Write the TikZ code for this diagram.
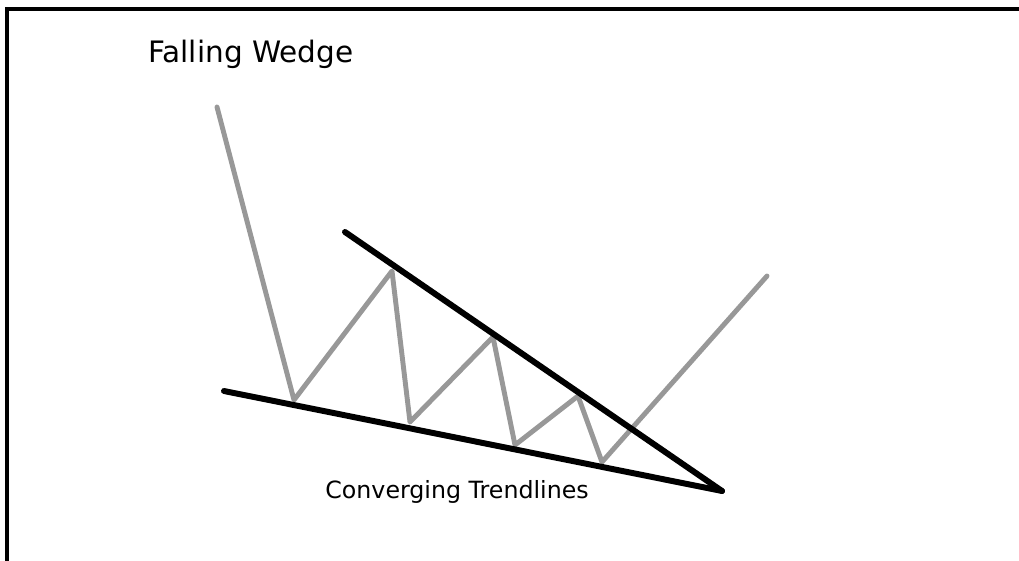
\documentclass[tikz,border=0pt]{standalone}
\usepackage{fontspec}
\setmainfont{DejaVu Sans}
\usepackage{tikz}
\usetikzlibrary{positioning}
\definecolor{pricegray}{RGB}{152,152,152}

\begin{document}
\begin{tikzpicture}[
  x=0.02cm, y=-0.02cm,
  frame/.style={draw=black, line width=2pt},
  price/.style={draw=pricegray, line width=2.8pt, line cap=round, line join=round},
  trend/.style={draw=black, line width=3.4pt, line cap=round},
  ttl/.style={font=\fontsize{16.8}{19}\selectfont, anchor=base west, inner sep=0pt},
  lbl/.style={font=\fontsize{13.5}{15}\selectfont, anchor=base west, inner sep=0pt},
]
\useasboundingbox (0,0) rectangle (1019,561);

% ---- frame
\draw[frame] (7,561) -- (7,9) -- (1019,9);

% ---- texts
\node[ttl] (title) at (148,62) {Falling Wedge};
\node[lbl] (conv) at (325,498) {Converging Trendlines};

% ---- price swings
\coordinate (s0) at (217,107);
\coordinate (v1) at (294,400);
\coordinate (p1) at (392,271);
\coordinate (v2) at (410,422);
\coordinate (p2) at (493,337);
\coordinate (v3) at (515,445);
\coordinate (p3) at (578,396);
\coordinate (v4) at (602,462);
\coordinate (s9) at (767,276);
\draw[price] (s0) -- (v1) -- (p1) -- (v2) -- (p2) -- (v3) -- (p3) -- (v4) -- (s9);

% ---- trendlines
\coordinate (up0) at (345,232);
\coordinate (lo0) at (224,391);
\coordinate (apex) at (722,491);
\draw[trend] (up0) -- (apex);
\draw[trend] (lo0) -- (apex);
\end{tikzpicture}
\end{document}
